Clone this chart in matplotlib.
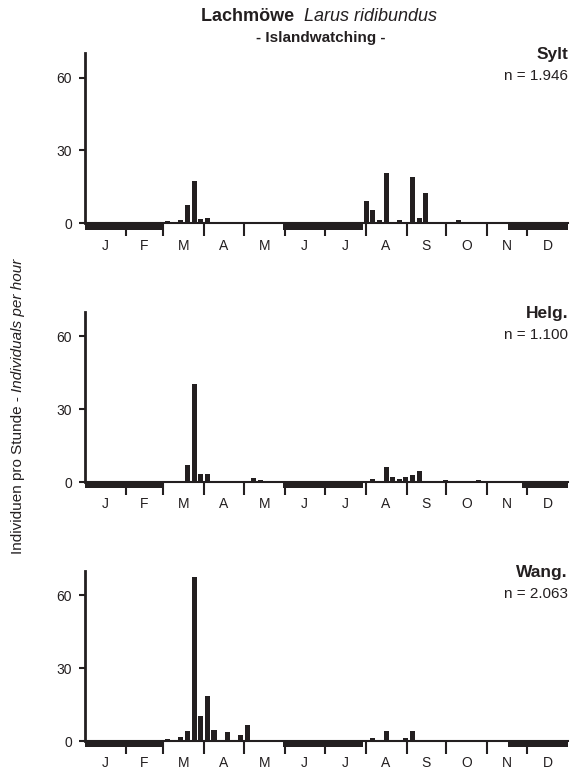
import matplotlib
matplotlib.use("Agg")
import matplotlib.pyplot as plt
from matplotlib.ticker import FixedLocator, NullFormatter
import numpy as np

plt.rcParams.update({
    "font.family": ["Liberation Sans", "DejaVu Sans"],
    "font.size": 10,
})

INK = "#231f20"

## month layout (day of year)
months = ["J", "F", "M", "A", "M", "J", "J", "A", "S", "O", "N", "D"]
month_days = [31, 28, 31, 30, 31, 30, 31, 31, 30, 31, 30, 31]

stations = ["Sylt", "Helg.", "Wang."]
n_labels = ["n = 1.946", "n = 1.100", "n = 2.063"]

## pentad index (0 = 1-5 Jan) and individuals per hour
sylt_pentad = [12, 14, 15, 16, 17, 18, 22, 24, 42, 43, 44, 45, 47, 48, 49, 50, 51, 54, 56, 57, 59, 60]
sylt_value = [1.0, 1.2, 7.4, 17.3, 1.8, 2.0, 0.5, 0.5, 9.3, 5.5, 1.2, 20.7, 1.2, 0.7, 18.9, 2.0, 12.5, 0.5, 1.4, 0.7, 0.5, 0.5]

helg_pentad = [12, 14, 15, 16, 17, 18, 20, 22, 23, 25, 26, 28, 43, 45, 46, 47, 48, 49, 50, 54, 55, 57, 59]
helg_value = [0.5, 0.5, 6.9, 40.2, 3.3, 3.3, 0.5, 0.5, 0.5, 1.6, 0.8, 0.5, 1.1, 6.3, 1.9, 1.4, 2.1, 2.7, 4.7, 0.8, 0.4, 0.4, 0.8]

wang_pentad = [12, 14, 15, 16, 17, 18, 19, 21, 23, 24, 26, 28, 29, 43, 45, 46, 48, 49]
wang_value = [1.0, 1.5, 4.0, 67.4, 10.3, 18.7, 4.4, 3.6, 2.5, 6.7, 0.5, 0.5, 0.5, 1.4, 4.1, 0.6, 1.4, 4.0]

## periods without counts (start day, end day)
sylt_gap = [(0, 60), (150, 210), (320, 365)]
helg_gap = [(0, 60), (150, 210), (330, 365)]
wang_gap = [(0, 60), (150, 210), (320, 365)]

pentads = [sylt_pentad, helg_pentad, wang_pentad]
values = [sylt_value, helg_value, wang_value]
gaps = [sylt_gap, helg_gap, wang_gap]

bounds = np.concatenate([[0], np.cumsum(month_days)])
mids = (bounds[:-1] + bounds[1:]) / 2.0

fig = plt.figure(figsize=(5.73, 7.71), dpi=100)

bottoms = [0.7104, 0.3748, 0.0389]
for k in range(3):
    ax = fig.add_axes([0.1483, bottoms[k], 0.8430, 0.2205])
    x = np.array(pentads[k]) * 5 + 2.5
    ax.bar(x, values[k], width=3.8, color=INK, linewidth=0)
    ax.broken_barh([(s, e - s) for s, e in gaps[k]], (-2.6, 2.6),
                   facecolor=INK, edgecolor="none", clip_on=False)

    ax.set_xlim(0, 365)
    ax.set_ylim(0, 70)
    for side in ["top", "right"]:
        ax.spines[side].set_visible(False)
    ax.spines["left"].set_linewidth(2)
    ax.spines["left"].set_color(INK)
    ax.spines["bottom"].set_linewidth(1.5)
    ax.spines["bottom"].set_color(INK)

    ax.set_yticks([0, 30, 60])
    ax.tick_params(axis="y", length=4.5, width=1.5, color=INK, labelcolor=INK,
                   labelsize=10, pad=5)

    ax.xaxis.set_major_locator(FixedLocator(bounds[1:-1]))
    ax.xaxis.set_major_formatter(NullFormatter())
    ax.xaxis.set_minor_locator(FixedLocator(mids))
    ax.set_xticklabels(months, minor=True)
    ax.tick_params(axis="x", which="major", length=9.4, width=1.5, color=INK)
    ax.tick_params(axis="x", which="minor", length=0, pad=11, labelsize=10,
                   labelcolor=INK)

    ax.text(1.0, 0.99, stations[k], transform=ax.transAxes, ha="right",
            va="center", fontsize=12.5, fontweight="bold", color=INK)
    ax.text(1.0, 0.865, n_labels[k], transform=ax.transAxes, ha="right",
            va="center", fontsize=11, color=INK)

## title
fig.text(0.522, 0.978, "Lachmöwe ", ha="right", va="center", fontsize=13,
         fontweight="bold", color=INK)
fig.text(0.522, 0.978, " Larus ridibundus", ha="left", va="center", fontsize=13,
         style="italic", color=INK)
fig.text(0.56, 0.951, "- Islandwatching -", ha="center", va="center",
         fontsize=11, fontweight="bold", color=INK)

## y label
fig.text(0.032, 0.4916, "Individuen pro Stunde - ", rotation=90,
         rotation_mode="anchor", ha="right", va="center", fontsize=11, color=INK)
fig.text(0.032, 0.4916, "Individuals per hour", rotation=90,
         rotation_mode="anchor", ha="left", va="center", fontsize=11,
         style="italic", color=INK)

fig.savefig("out.png", dpi=100)
